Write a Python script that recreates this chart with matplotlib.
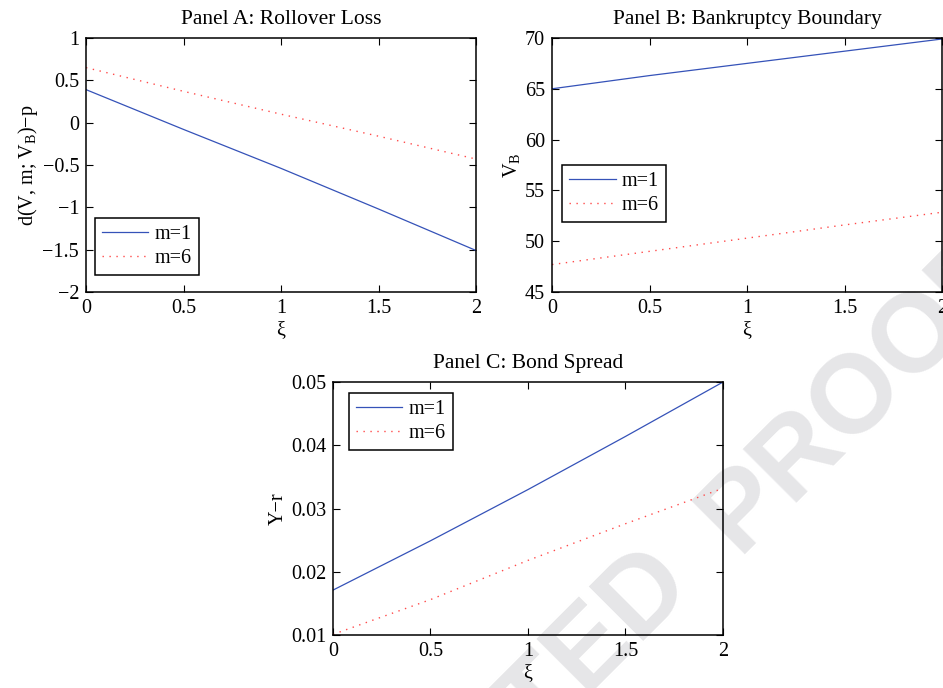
import numpy as np
import matplotlib
matplotlib.use('Agg')
import matplotlib.pyplot as plt
from matplotlib.ticker import FuncFormatter

plt.rcParams['font.family'] = ['Liberation Serif', 'DejaVu Serif']
plt.rcParams['mathtext.fontset'] = 'custom'
plt.rcParams['mathtext.rm'] = 'Liberation Serif'
plt.rcParams['mathtext.it'] = 'Liberation Serif:italic'
plt.rcParams['font.size'] = 14.5

# xi grid
xi = [0.0, 0.5, 1.0, 1.5, 2.0]

# Panel A: rollover loss
loss_m1 = [0.39, -0.08, -0.54, -1.02, -1.51]
loss_m6 = [0.65, 0.37, 0.10, -0.16, -0.43]

# Panel B: bankruptcy boundary
vb_m1 = [65.0, 66.3, 67.5, 68.7, 69.9]
vb_m6 = [47.7, 49.0, 50.3, 51.6, 52.85]

# Panel C: bond spread
spread_m1 = [0.0171, 0.0249, 0.0330, 0.0414, 0.0500]
spread_m6 = [0.0101, 0.0156, 0.0218, 0.0276, 0.0332]

labels = ['m=1', 'm=6']
xticks = [0, 0.5, 1, 1.5, 2]

blue = '#3552b8'
red = '#ff4a4a'


def fmt(v, pos):
	return f'{v:g}'.replace('-', '\u2212')


def style(ax, yticks, ylim):
	ax.set_xlim(0, 2)
	ax.set_ylim(*ylim)
	ax.set_xticks(xticks)
	ax.set_yticks(yticks)
	ax.xaxis.set_major_formatter(FuncFormatter(fmt))
	ax.yaxis.set_major_formatter(FuncFormatter(fmt))
	ax.tick_params(direction='in', top=True, right=True, length=5, width=0.8, pad=5)
	for s in ax.spines.values():
		s.set_linewidth(1.1)
	ax.patch.set_alpha(0)
	ax.set_xlabel('\u03be', labelpad=2)


def draw(ax, y1, y6, title, ylabel):
	ax.plot(xi, y1, color=blue, lw=0.9, label=labels[0])
	ax.plot(xi, y6, color=red, lw=1.0, ls=(0, (1, 4)), label=labels[1])
	ax.set_title(title, fontsize=15.5, pad=10)
	ax.set_ylabel(ylabel, labelpad=2)


def legend(ax, **kw):
	leg = ax.legend(borderaxespad=0, fancybox=False, edgecolor='black',
		handlelength=2.3, handletextpad=0.3, fontsize=14.5,
		borderpad=0.35, labelspacing=0.25, **kw)
	leg.get_frame().set_linewidth(1.1)
	leg.get_frame().set_alpha(1)
	return leg


fig = plt.figure(figsize=(9.43, 6.88), dpi=100)

# watermark (partly off the page, as in the scan)
wm = dict(fontsize=80, family='Liberation Sans', weight='bold', color='#e6e6e8',
	rotation=45, rotation_mode='anchor', ha='center', va='center', zorder=-5)
fig.text(0.4507, -0.183, 'CORRECTED', **wm)
fig.text(0.9088, 0.427, 'PROOF', **wm)

axA = fig.add_axes([0.0912, 0.5756, 0.4136, 0.3692])
draw(axA, loss_m1, loss_m6, 'Panel A: Rollover Loss', 'd(V, m; V$_\\mathrm{B}$)\u2212p')
style(axA, [-2, -1.5, -1, -0.5, 0, 0.5, 1], (-2, 1))
legend(axA, loc='lower left', bbox_to_anchor=(0.023, 0.067))

axB = fig.add_axes([0.5854, 0.5756, 0.4136, 0.3692])
draw(axB, vb_m1, vb_m6, 'Panel B: Bankruptcy Boundary', 'V$_\\mathrm{B}$')
style(axB, [45, 50, 55, 60, 65, 70], (45, 70))
legend(axB, loc='lower left', bbox_to_anchor=(0.026, 0.276))

axC = fig.add_axes([0.3531, 0.0770, 0.4136, 0.3677])
draw(axC, spread_m1, spread_m6, 'Panel C: Bond Spread', 'Y\u2212r')
style(axC, [0.01, 0.02, 0.03, 0.04, 0.05], (0.01, 0.05))
legend(axC, loc='upper left', bbox_to_anchor=(0.041, 0.957))

fig.savefig('out.png', dpi=100)
